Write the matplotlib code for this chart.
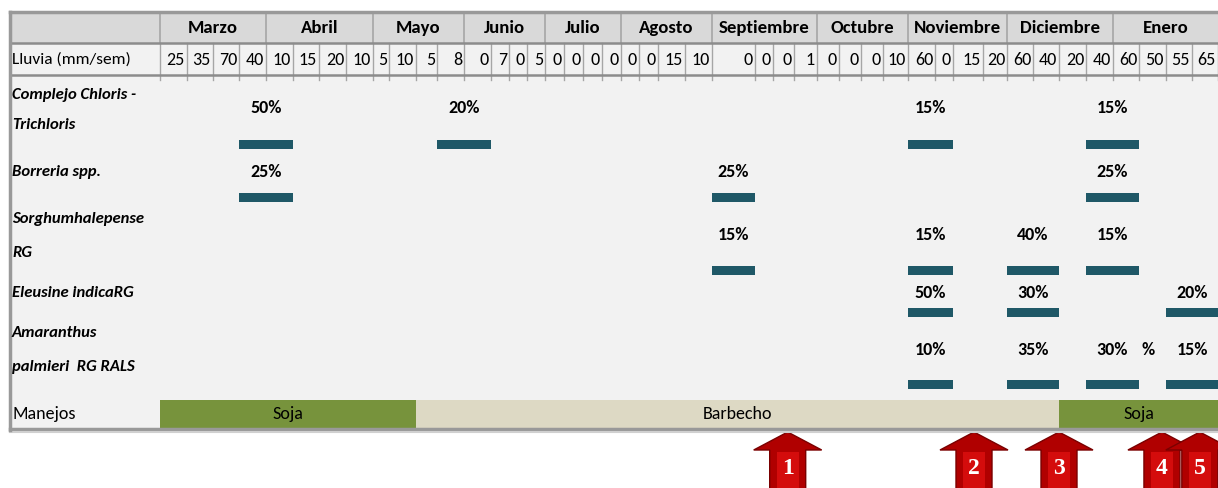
import numpy as np
import matplotlib.pyplot as plt
from matplotlib.patches import Rectangle, Polygon

meses = ['Marzo', 'Abril', 'Mayo', 'Junio', 'Julio', 'Agosto', 'Septiembre',
         'Octubre', 'Noviembre', 'Diciembre', 'Enero']
lluvia = [25, 35, 70, 40, 10, 15, 20, 10, 5, 10, 5, 8, 0, 7, 0, 5, 0, 0, 0, 0,
          0, 0, 15, 10, 0, 0, 0, 1, 0, 0, 0, 10, 60, 0, 15, 20, 60, 40, 20, 40,
          60, 50, 55, 65]
malezas = ['Complejo Chloris -\nTrichloris', 'Borreria spp.', 'Sorghumhalepense\nRG',
           'Eleusine indicaRG', 'Amaranthus\npalmieri  RG RALS']
# (semana inicial, n semanas, cobertura %)
chloris = [(3, 2, 50), (11, 2, 20), (32, 2, 15), (39, 2, 15)]
borreria = [(3, 2, 25), (24, 1, 25), (39, 2, 25)]
sorghum = [(24, 1, 15), (32, 2, 15), (36, 2, 40), (39, 2, 15)]
eleusine = [(32, 2, 50), (36, 2, 30), (42, 2, 20)]
amaranthus = [(32, 2, 10), (36, 2, 35), (39, 2, 30), (42, 2, 15)]
manejos = ['Soja', 'Barbecho', 'Soja']
manejo_semanas = [(0, 10), (10, 38), (38, 44)]
aplicaciones = [26.7, 34.7, 38.0, 41.85, 43.3]

# layout de la tabla (pixeles)
bordes = [160, 187, 213, 239, 266, 293, 319, 346, 373, 389, 416, 437, 464, 491,
          509, 527, 545, 564, 583, 602, 621, 639, 658, 685, 712, 755, 773, 794,
          817, 839, 861, 883, 908, 935, 953, 983, 1007, 1033, 1059, 1086, 1113,
          1139, 1166, 1192, 1218]
fila_label_y = [(95, 125), (172,), (219, 253), (293,), (333, 367)]
fila_pct_y = [108, 172, 235, 293, 350]
fila_bar_y = [144, 197, 270, 312, 384]

plt.rcParams['font.family'] = ['Carlito', 'Lato', 'DejaVu Sans']

def wx(w):
    return np.interp(w, np.arange(len(bordes)), bordes)

fig = plt.figure(figsize=(12.18, 4.88), dpi=100)
ax = fig.add_axes([0, 0, 1, 1])
ax.set_xlim(0, 1218)
ax.set_ylim(488, 0)
ax.axis('off')

gris = '#A6A6A6'
# fondo
ax.add_patch(Rectangle((10, 12), 1208, 418, fc='#F2F2F2', ec='none'))
ax.add_patch(Rectangle((10, 12), 1208, 31, fc='#D9D9D9', ec='none'))

# meses
for i, m in enumerate(meses):
    x0, x1 = bordes[i * 4], bordes[i * 4 + 4]
    ax.text((x0 + x1) / 2, 28, m, ha='center', va='center', fontsize=13.5, fontweight='bold')
    ax.plot([x0, x0], [12, 43], color=gris, lw=1.2)

# lluvia
ax.text(12, 60, 'Lluvia (mm/sem)', ha='left', va='center', fontsize=12.5)
for i, v in enumerate(lluvia):
    ax.text(bordes[i + 1] - 2, 60, str(v), ha='right', va='center', fontsize=13)
for x in bordes:
    ax.plot([x, x], [43, 80], color=gris, lw=1)
ax.plot([10, 1218], [12, 12], color='#999999', lw=2.5)
ax.plot([10, 1218], [43, 43], color='#8C8C8C', lw=1.8)
ax.plot([10, 1218], [75, 75], color='#8C8C8C', lw=1.8)

# malezas
datos = [chloris, borreria, sorghum, eleusine, amaranthus]
for k, nombre in enumerate(malezas):
    for linea, y in zip(nombre.split('\n'), fila_label_y[k]):
        ax.text(12, y, linea, ha='left', va='center', fontsize=12,
                fontweight='bold', style='italic')
    for s, n, p in datos[k]:
        x0, x1 = wx(s), wx(s + n)
        ax.barh(fila_bar_y[k], x1 - x0, left=x0, height=9, color='#1F5867')
        ax.text((x0 + x1) / 2, fila_pct_y[k], f'{p}%', ha='center', va='center',
                fontsize=13, fontweight='bold')
ax.text(1148, fila_pct_y[4], '%', ha='center', va='center', fontsize=13, fontweight='bold')

# manejos
ax.text(12, 414, 'Manejos', ha='left', va='center', fontsize=13)
colores = {'Soja': '#77933C', 'Barbecho': '#DDD9C4'}
for nombre, (s, e) in zip(manejos, manejo_semanas):
    x0, x1 = wx(s), wx(e)
    ax.barh(414, x1 - x0, left=x0, height=28, color=colores[nombre])
    ax.text((x0 + x1) / 2, 414, nombre, ha='center', va='center', fontsize=13)
ax.plot([10, 1218], [429, 429], color='#999999', lw=2.5)
ax.plot([10, 1218], [431.5, 431.5], color='#D0D0D0', lw=1.5)
ax.plot([10, 10], [12, 430], color='#999999', lw=2.5)

# flechas de aplicacion
for i, w in enumerate(aplicaciones):
    xc = wx(w)
    pts = [(xc, 432), (xc + 34, 450), (xc + 18, 450), (xc + 18, 495),
           (xc - 18, 495), (xc - 18, 450), (xc - 34, 450)]
    ax.add_patch(Polygon(pts, closed=True, fc='#B00000', ec='#7A0000', lw=1))
    ax.add_patch(Rectangle((xc - 11, 452), 22, 40, fc='#D40C0C', ec='none'))
    ax.text(xc, 469, str(i + 1), ha='center', va='center', color='white',
            fontsize=17, fontweight='bold', family=['Liberation Serif', 'DejaVu Serif'])

fig.savefig('out.png', dpi=100)
